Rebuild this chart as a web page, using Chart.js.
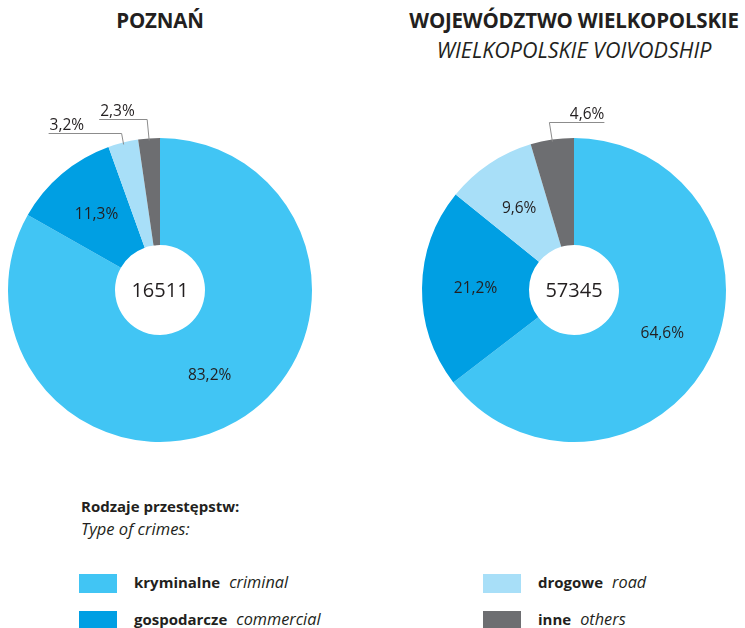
<!DOCTYPE html>
<html>
<head>
<meta charset="utf-8">
<script src="https://cdn.jsdelivr.net/npm/chart.js@4/dist/chart.umd.min.js"></script>
<style>
  html, body { margin: 0; padding: 0; background: #fff; }
  body { width: 745px; height: 628px; position: relative; overflow: hidden;
         font-family: "Open Sans", "Noto Sans", sans-serif; color: #231f20; }
  .abs { position: absolute; white-space: nowrap; }
  .title { font-weight: bold; font-size: 20.5px; transform: translateX(-50%); letter-spacing: -0.2px; }
  .sub { font-style: italic; font-size: 21.5px; transform: translateX(-50%); }
  .box { position: absolute; width: 330px; height: 370px; top: 80px; }
  .sw { position: absolute; width: 38px; height: 19px; }
  .lg { font-size: 15px; }
  .lg b { font-weight: bold; }
  .lg i { margin-left: 9px; font-size: 16.3px; }
</style>
</head>
<body>
<div class="abs title" style="left:160px; top:6px;">POZNAŃ</div>
<div class="abs title" style="left:574px; top:6px;">WOJEWÓDZTWO WIELKOPOLSKIE</div>
<div class="abs sub" style="left:574px; top:35px;">WIELKOPOLSKIE VOIVODSHIP</div>

<div class="box" style="left:0px;"><canvas id="chart-poznan"></canvas></div>
<div class="box" style="left:414px;"><canvas id="chart-region"></canvas></div>

<div class="abs lg" style="left:81px; top:496px; font-weight:bold;">Rodzaje przestępstw:</div>
<div class="abs lg" style="left:81px; top:517px; font-style:italic; font-size:16.5px;">Type of crimes:</div>
<div id="legend"></div>

<script>
// ---- data ----
const categories   = ["kryminalne", "gospodarcze", "drogowe", "inne"];
const categoriesEn = ["criminal", "commercial", "road", "others"];
const colors       = ["#41c5f4", "#009fe3", "#a8dff8", "#6d6e71"];
const poznanShares = [83.2, 11.3, 3.2, 2.3];
const regionShares = [64.6, 21.2, 9.6, 4.6];
const poznanTotal  = "16511";
const regionTotal  = "57345";

const $ = (id) => document.getElementById(id);
const pl = (v) => v.toFixed(1).replace(".", ",") + "%";

// callouts: null = label inside slice, otherwise leader line (elbow above centre, horizontal run)
const poznanCallouts = [null, null, { elbow: -157, run: -73 }, { elbow: -171, run: -48 }];
const regionCallouts = [null, null, null, { elbow: -168, run: 55, lean: -3 }];

const sliceLabels = {
  id: "sliceLabels",
  afterDatasetsDraw(chart, args, opts) {
    const ctx = chart.ctx;
    const meta = chart.getDatasetMeta(0);
    const vals = chart.data.datasets[0].data;
    ctx.save();
    ctx.font = '15.5px "Open Sans", sans-serif';
    ctx.fillStyle = "#231f20";
    meta.data.forEach((arc, i) => {
      const p = arc.getProps(["x", "y", "startAngle", "endAngle", "innerRadius", "outerRadius"], true);
      const mid = (p.startAngle + p.endAngle) / 2;
      const co = opts.callouts[i];
      if (!co) {
        const r = (p.innerRadius + p.outerRadius) / 2;
        ctx.textAlign = "center";
        ctx.textBaseline = "middle";
        ctx.fillText(pl(vals[i]), p.x + Math.cos(mid) * r, p.y + Math.sin(mid) * r);
        return;
      }
      const sx = p.x + Math.cos(mid) * (p.outerRadius - 2);
      const sy = p.y + Math.sin(mid) * (p.outerRadius - 2);
      const ex = sx + (co.lean || -2);
      const ey = p.y + co.elbow;
      const hx = ex + co.run;
      ctx.strokeStyle = "#8c8c8c";
      ctx.lineWidth = 1;
      ctx.beginPath();
      ctx.moveTo(sx, sy);
      ctx.lineTo(ex, ey + 0.5);
      ctx.lineTo(hx, ey + 0.5);
      ctx.stroke();
      ctx.textAlign = co.run < 0 ? "left" : "right";
      ctx.textBaseline = "alphabetic";
      ctx.fillText(pl(vals[i]), hx + (co.run < 0 ? 1 : 0), ey - 3);
    });
    // total in the hole
    ctx.font = '20px "Open Sans", sans-serif';
    ctx.textAlign = "center";
    ctx.textBaseline = "middle";
    const a = meta.data[0];
    ctx.fillText(opts.total, a.x, a.y + 1);
    ctx.restore();
  }
};

function makeDonut(canvasId, shares, total, callouts) {
  return new Chart($(canvasId), {
    type: "doughnut",
    data: {
      labels: categories,
      datasets: [{ data: shares, backgroundColor: colors, borderWidth: 0, hoverOffset: 0 }]
    },
    options: {
      responsive: true,
      maintainAspectRatio: false,
      animation: false,
      cutout: "29.6%",
      layout: { padding: { left: 8, right: 18, top: 58, bottom: 8 } },
      plugins: {
        legend: { display: false },
        tooltip: { enabled: false },
        sliceLabels: { callouts, total }
      }
    },
    plugins: [sliceLabels]
  });
}

makeDonut("chart-poznan", poznanShares, poznanTotal, poznanCallouts);
makeDonut("chart-region", regionShares, regionTotal, regionCallouts);

// ---- legend ----
const legendPos = [[79, 574], [79, 611], [483, 574], [483, 611]];
categories.forEach((c, i) => {
  const [x, y] = legendPos[i];
  const sw = document.createElement("div");
  sw.className = "sw";
  sw.style.left = x + "px";
  sw.style.top = y + "px";
  sw.style.background = colors[i];
  document.body.appendChild(sw);
  const t = document.createElement("div");
  t.className = "abs lg";
  t.style.left = (x + 55) + "px";
  t.style.top = (y - 3) + "px";
  t.innerHTML = `<b>${c}</b><i>${categoriesEn[i]}</i>`;
  document.body.appendChild(t);
});
</script>
</body>
</html>
